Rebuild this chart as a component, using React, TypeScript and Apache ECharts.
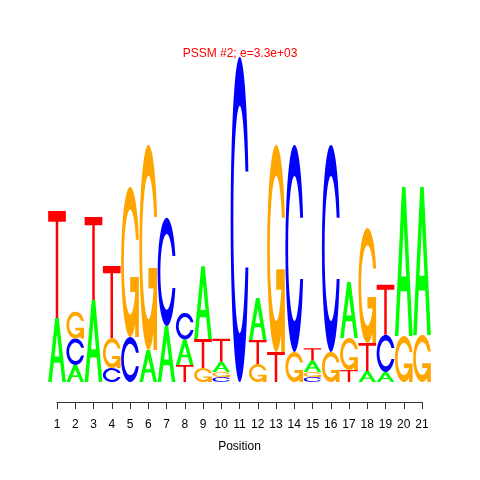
import React, { useEffect, useRef } from "react";
import * as echarts from "echarts";

// Information content (bits) per letter at positions 1..21
const positions = [1,2,3,4,5,6,7,8,9,10,11,12,13,14,15,16,17,18,19,20,21];
const letters = ["A", "C", "G", "T"];
const heightA = [0.394, 0.105, 0.505, 0, 0, 0.197, 0.345, 0.157, 0.449, 0.062, 0, 0.258, 0, 0, 0.07, 0, 0.345, 0.068, 0.062, 0.917, 0.911];
const heightC = [0, 0.163, 0, 0.086, 0.277, 0, 0.665, 0.163, 0, 0.031, 2.0, 0, 0, 1.274, 0.031, 1.274, 0, 0, 0.228, 0, 0];
const heightG = [0, 0.165, 0, 0.185, 0.923, 1.262, 0, 0, 0.086, 0.031, 0, 0.111, 1.274, 0.185, 0.031, 0.185, 0.197, 0.708, 0, 0.283, 0.289];
const heightT = [0.658, 0, 0.51, 0.443, 0, 0, 0, 0.105, 0.178, 0.142, 0, 0.148, 0.185, 0, 0.075, 0, 0.074, 0.172, 0.308, 0, 0];
const titleText = "PSSM #2; e=3.3e+03";

const COLORS = ["#00FF00", "#0000FF", "#FFA500", "#FF0000"];

const PATH_A = "M0,100 L40,0 L60,0 L100,100 L80,100 L68,70 L32,70 L20,100 Z M36,60 L64,60 L50,25 Z";
const PATH_C = "M97.8,35.2 A50,50 0 1 0 97.8,64.8 L81.7,64.8 A35,35 0 1 1 81.7,35.2 Z";
const PATH_G = PATH_C + " M97.8,60 L50,60 L50,70 L77.8,70 L77.8,100 L97.8,100 Z";
const PATH_T = "M0,0 L100,0 L100,10 L57,10 L57,100 L43,100 L43,10 L0,10 Z";
const PATHS = [PATH_A, PATH_C, PATH_G, PATH_T];

export default function App() {
  const ref = useRef<HTMLDivElement>(null);
  useEffect(() => {
    if (!ref.current) return;
    const chart = echarts.init(ref.current, null, { renderer: "svg" });
    const all = [heightA, heightC, heightG, heightT];
    const data: number[][] = [];
    positions.forEach((p, i) => {
      const items = letters.map((_, li) => ({ li, h: all[li][i] })).filter((d) => d.h > 0);
      items.sort((a, b) => a.h - b.h);
      let y = 0;
      items.forEach((d) => {
        data.push([p, y, y + d.h, d.li]);
        y += d.h;
      });
    });
    const font = "Liberation Sans, Arial, Helvetica, sans-serif";
    chart.setOption({
      animation: false,
      title: {
        text: titleText,
        left: "center",
        top: 47,
        padding: 0,
        textStyle: { color: "#FF0000", fontSize: 12, fontWeight: "normal", fontFamily: font },
      },
      grid: { left: 57, right: 58, top: 57, bottom: 78 },
      xAxis: {
        type: "value",
        min: 1,
        max: 21,
        interval: 1,
        name: "Position",
        nameLocation: "middle",
        nameGap: 38,
        nameTextStyle: { color: "#000", fontSize: 12, fontFamily: font },
        axisLine: { show: true, onZero: false, lineStyle: { color: "#333", width: 1 } },
        axisTick: { show: true, length: 7, lineStyle: { color: "#333" } },
        axisLabel: { color: "#000", fontSize: 12, fontFamily: font, margin: 16 },
        splitLine: { show: false },
      },
      yAxis: { type: "value", min: -0.1231, max: 2, show: false },
      series: [
        {
          type: "custom",
          clip: false,
          encode: { x: 0, y: [1, 2] },
          data,
          renderItem: (params: any, api: any) => {
            const x = api.value(0);
            const y0 = api.value(1);
            const y1 = api.value(2);
            const li = api.value(3);
            const p0 = api.coord([x - 0.485, y1]);
            const p1 = api.coord([x + 0.485, y0]);
            return {
              type: "path",
              shape: {
                pathData: PATHS[li],
                x: p0[0],
                y: p0[1],
                width: p1[0] - p0[0],
                height: p1[1] - p0[1],
                layout: "cover",
              },
              style: { fill: COLORS[li] },
            };
          },
        },
      ],
    });
    return () => chart.dispose();
  }, []);
  return <div ref={ref} style={{ position: "fixed", left: 0, top: 0, width: 480, height: 480 }} />;
}
